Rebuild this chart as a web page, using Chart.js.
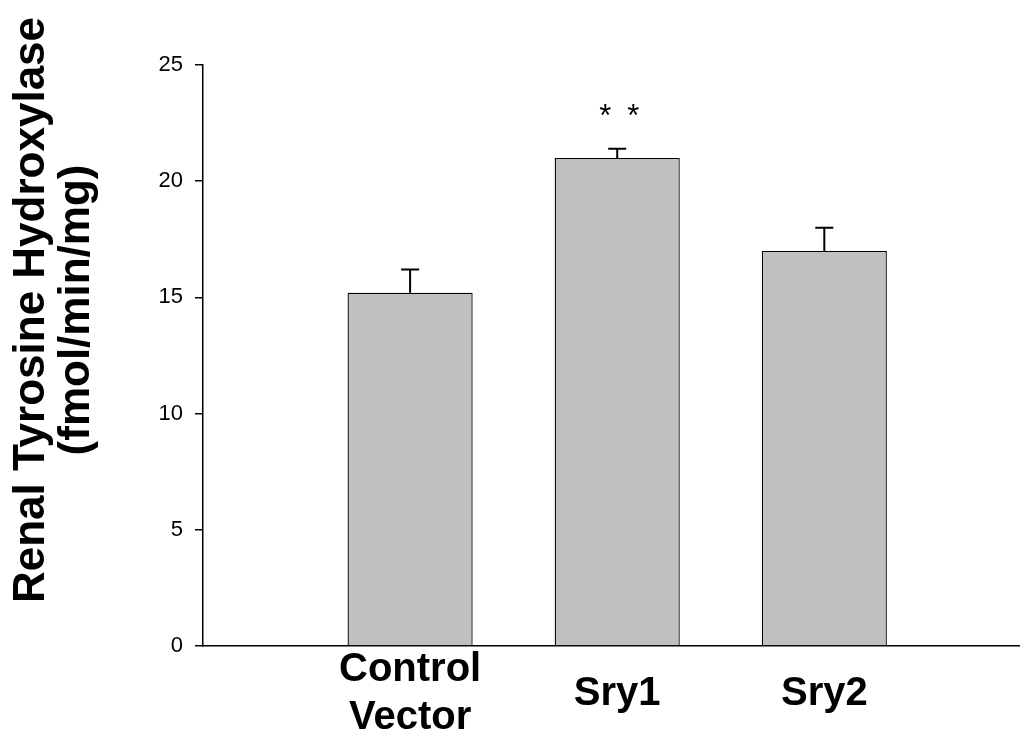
<!DOCTYPE html>
<html>
<head>
<meta charset="utf-8">
<script src="https://cdn.jsdelivr.net/npm/chart.js@4/dist/chart.umd.min.js"></script>
<style>
  html, body { margin: 0; padding: 0; background: #fff; }
  #wrap { width: 1020px; height: 736px; position: relative; }
</style>
</head>
<body>
<div id="wrap"><canvas id="c" width="1020" height="736"></canvas></div>
<script>
// ---- data ----
const categories = [['Control', 'Vector'], 'Sry1', 'Sry2'];
const xPositions = [1, 2, 3];
const values = [15.2, 21.0, 17.0];
const errors = [1.0, 0.4, 1.0];
const significance = ['', '*  *', ''];
const yTicks = [0, 5, 10, 15, 20, 25];
const yTitleLines = ['Renal Tyrosine Hydroxylase', '(fmol/min/mg)'];

const FONT = '"Liberation Sans", Arial, Helvetica, sans-serif';

const overlay = {
  id: 'overlay',
  afterDatasetsDraw(chart) {
    const ctx = chart.ctx;
    const xs = chart.scales.x, ys = chart.scales.y;
    ctx.save();
    ctx.strokeStyle = '#000';
    ctx.lineWidth = 2;
    values.forEach((v, i) => {
      const px = xs.getPixelForValue(xPositions[i]);
      const top = ys.getPixelForValue(v);
      const eTop = ys.getPixelForValue(v + errors[i]);
      ctx.beginPath();
      ctx.moveTo(px, top);
      ctx.lineTo(px, eTop);
      ctx.moveTo(px - 9, eTop);
      ctx.lineTo(px + 9, eTop);
      ctx.stroke();
      if (significance[i]) {
        ctx.fillStyle = '#000';
        ctx.font = '31px ' + FONT;
        ctx.textAlign = 'center';
        ctx.textBaseline = 'alphabetic';
        const marks = significance[i].split(/\s+/);
        const gap = 28;
        marks.forEach((m, k) => {
          const off = (k - (marks.length - 1) / 2) * gap + 2;
          ctx.fillText(m, px + off, eTop - 23);
        });
      }
    });
    ctx.restore();
  },
  afterDraw(chart) {
    const ctx = chart.ctx;
    ctx.save();
    ctx.fillStyle = '#000';
    ctx.font = 'bold 44px ' + FONT;
    ctx.textAlign = 'center';
    ctx.textBaseline = 'alphabetic';
    const cy = 310;
    const baselines = [44, 89];
    yTitleLines.forEach((t, i) => {
      ctx.save();
      ctx.translate(baselines[i], cy);
      ctx.rotate(-Math.PI / 2);
      ctx.fillText(t, 0, 0);
      ctx.restore();
    });
    ctx.restore();
  }
};

new Chart(document.getElementById('c'), {
  type: 'bar',
  data: {
    datasets: [{
      data: xPositions.map((x, i) => ({ x: x, y: values[i] })),
      backgroundColor: '#c0c0c0',
      borderColor: '#000',
      borderWidth: 1.3,
      categoryPercentage: 1,
      barPercentage: 0.604
    }]
  },
  options: {
    responsive: false,
    animation: false,
    devicePixelRatio: 1,
    layout: { padding: { top: 65, right: 1, left: 0, bottom: 0 } },
    plugins: { legend: { display: false }, tooltip: { enabled: false }, title: { display: false } },
    scales: {
      x: {
        type: 'linear',
        offset: false,
        min: 0,
        max: 3.94,
        grid: { display: false, offset: false },
        border: { display: true, color: '#000', width: 1.5 },
        afterBuildTicks(scale) { scale.ticks = xPositions.map(v => ({ value: v })); },
        afterFit(scale) { scale.height = 90; },
        ticks: {
          autoSkip: false,
          maxRotation: 0,
          crossAlign: 'center',
          padding: 16,
          color: '#000',
          font: { family: FONT, size: 40, weight: 'bold', lineHeight: 1.2 },
          callback(value) {
            const i = xPositions.indexOf(value);
            return i >= 0 ? categories[i] : '';
          }
        }
      },
      y: {
        min: 0,
        max: 25,
        afterBuildTicks(scale) { scale.ticks = yTicks.map(v => ({ value: v })); },
        afterFit(scale) { scale.width = 203; },
        grid: { drawOnChartArea: false, drawTicks: true, tickLength: 8, color: '#000', lineWidth: 1.5 },
        border: { display: true, color: '#000', width: 1.5 },
        ticks: {
          padding: 12,
          color: '#000',
          font: { family: FONT, size: 22 }
        }
      }
    }
  },
  plugins: [overlay]
});
</script>
</body>
</html>
